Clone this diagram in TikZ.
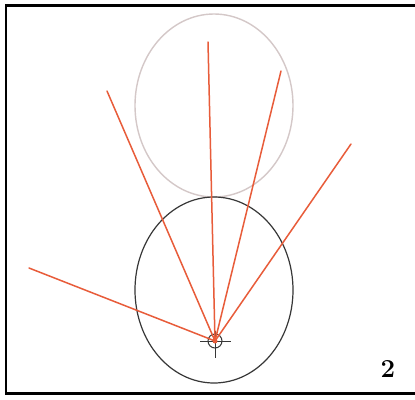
\documentclass[tikz,border=0pt]{standalone}
\usetikzlibrary{calc}
\definecolor{rayred}{RGB}{232,92,58}
\definecolor{lightring}{RGB}{212,200,200}
\definecolor{darkring}{RGB}{55,55,55}
\tikzset{
  ray/.style={draw=rayred, line width=1.5bp, line cap=round},
  frame/.style={draw=black, line width=2.4bp},
  upperring/.style={draw=lightring, line width=1.4bp},
  lowerring/.style={draw=darkring, line width=1.2bp},
  mark line/.style={draw=darkring, line width=1bp},
}
\begin{document}
\begin{tikzpicture}[x=1bp,y=-1bp]
\useasboundingbox (0,0) rectangle (415,400);
\fill[white] (0,0) rectangle (415,400);
% frame (open on the right)
\draw[frame] (416,5.5) -- (6,5.5) -- (6,393.5) -- (416,393.5);
% ellipses
\draw[upperring] (214,105.5) ellipse [x radius=79, y radius=91.5];
\draw[lowerring] (214,290) ellipse [x radius=79, y radius=93];
% crosshair mark
\coordinate (c) at (215,341);
\draw[mark line] (c) circle [radius=7];
\draw[mark line] (200,341) -- (231,341);
\draw[mark line] (215,331) -- (215,358);
% ray ends
\coordinate (e1) at (29,268);
\coordinate (e2) at (107,91);
\coordinate (e3) at (208,42);
\coordinate (e4) at (281,71);
\coordinate (e5) at (351,144);
\foreach \e in {e1,e2,e3,e4,e5}{\draw[ray] (c) -- (\e);}
\fill[rayred] (c) circle [radius=2.5];
% label
\node[font=\fontsize{26}{26}\selectfont\bfseries, inner sep=0pt] (lab) at (388,369) {2};
\end{tikzpicture}
\end{document}
